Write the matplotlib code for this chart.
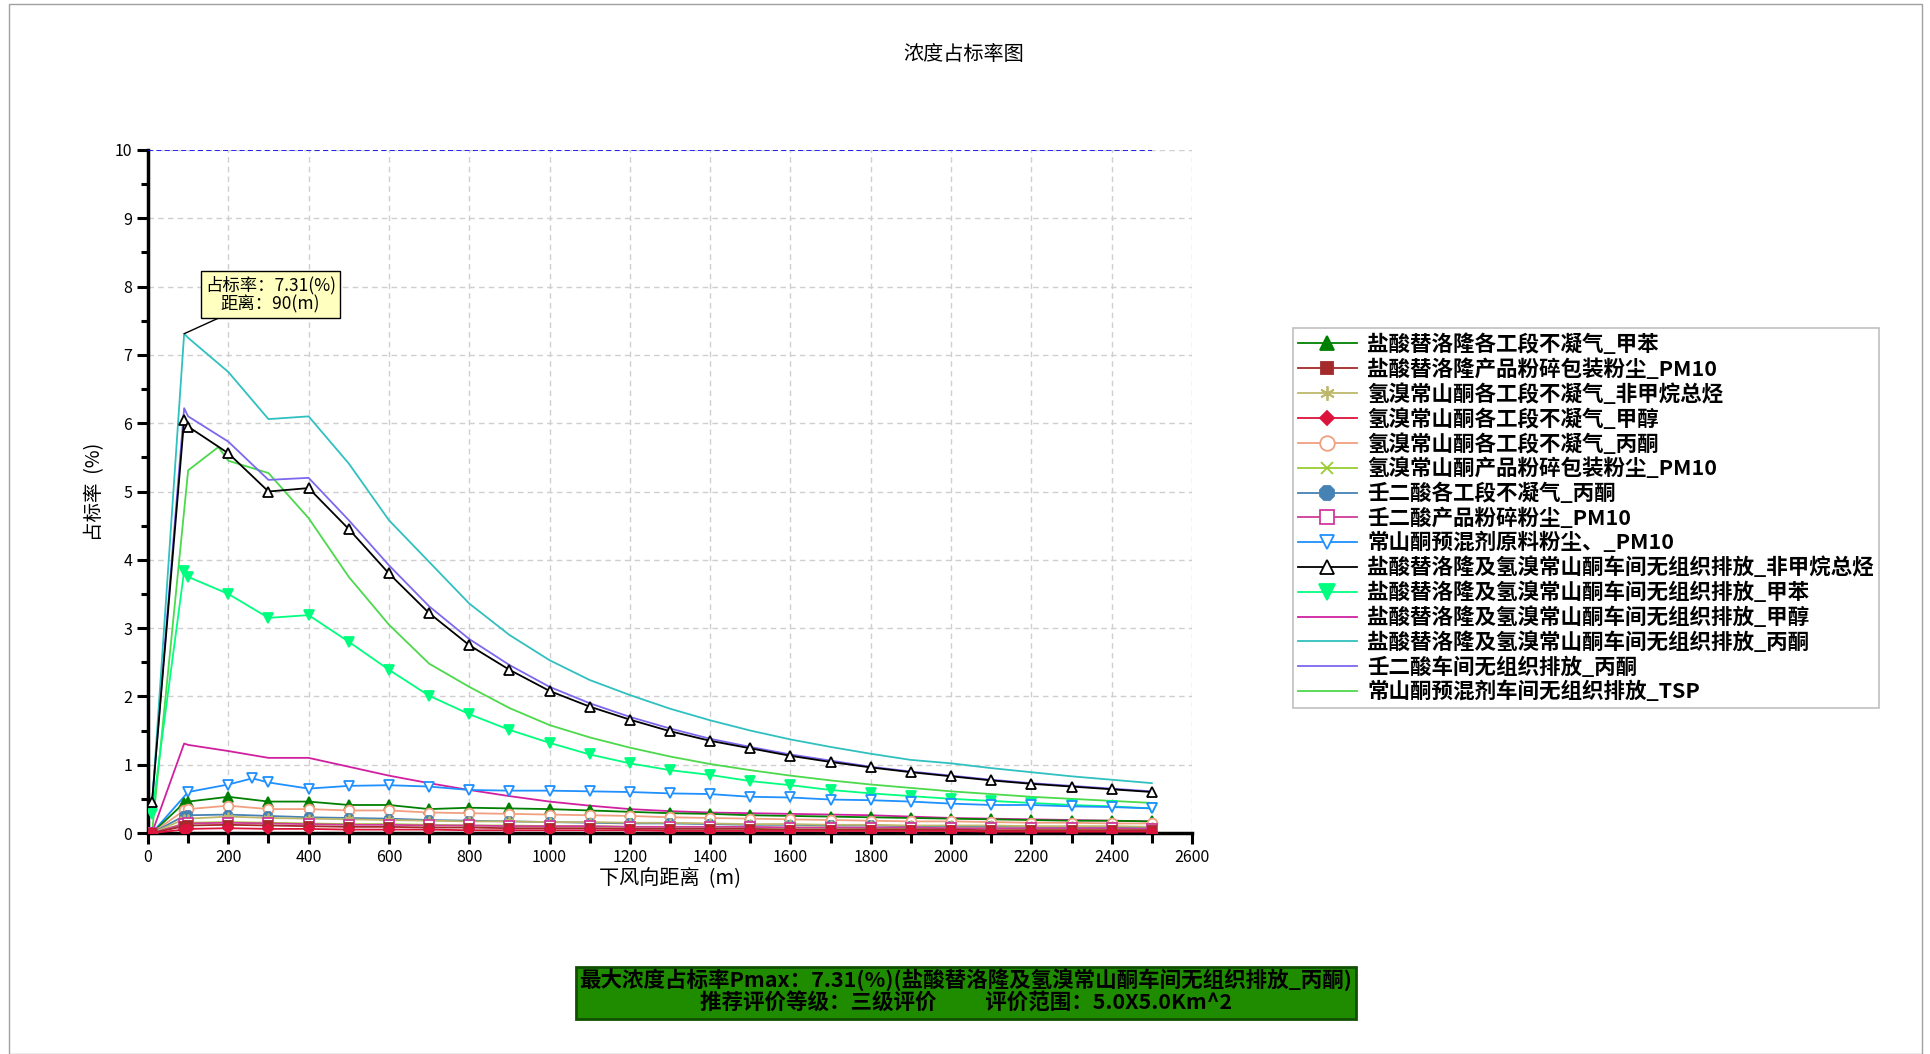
import matplotlib
matplotlib.use('Agg')
import matplotlib.pyplot as plt
from matplotlib.patches import Rectangle
from matplotlib.ticker import MultipleLocator

plt.rcParams['font.family'] = ['Noto Sans CJK SC', 'DejaVu Sans']
plt.rcParams['axes.unicode_minus'] = False

# ---------------- data ----------------
DIST = [10, 90, 100, 200, 300, 400, 500, 600, 700, 800, 900, 1000, 1100, 1200,
        1300, 1400, 1500, 1600, 1700, 1800, 1900, 2000, 2100, 2200, 2300, 2400, 2500]
DIST_B = [10, 100, 200, 260, 300, 400, 500, 600, 700, 800, 900, 1000, 1100, 1200,
          1300, 1400, 1500, 1600, 1700, 1800, 1900, 2000, 2100, 2200, 2300, 2400, 2500]
DIST_TSP = [10, 100, 175, 200, 300, 400, 500, 600, 700, 800, 900, 1000, 1100, 1200,
            1300, 1400, 1500, 1600, 1700, 1800, 1900, 2000, 2100, 2200, 2300, 2400, 2500]

LABELS = [
    "盐酸替洛隆各工段不凝气_甲苯",
    "盐酸替洛隆产品粉碎包装粉尘_PM10",
    "氢溴常山酮各工段不凝气_非甲烷总烃",
    "氢溴常山酮各工段不凝气_甲醇",
    "氢溴常山酮各工段不凝气_丙酮",
    "氢溴常山酮产品粉碎包装粉尘_PM10",
    "壬二酸各工段不凝气_丙酮",
    "壬二酸产品粉碎粉尘_PM10",
    "常山酮预混剂原料粉尘、_PM10",
    "盐酸替洛隆及氢溴常山酮车间无组织排放_非甲烷总烃",
    "盐酸替洛隆及氢溴常山酮车间无组织排放_甲苯",
    "盐酸替洛隆及氢溴常山酮车间无组织排放_甲醇",
    "盐酸替洛隆及氢溴常山酮车间无组织排放_丙酮",
    "壬二酸车间无组织排放_丙酮",
    "常山酮预混剂车间无组织排放_TSP",
]

S1_TOLUENE = [0.0, 0.44, 0.46, 0.53, 0.46, 0.46, 0.41, 0.41, 0.35, 0.37, 0.36, 0.35, 0.33, 0.31,
              0.29, 0.28, 0.26, 0.25, 0.24, 0.23, 0.22, 0.21, 0.20, 0.19, 0.18, 0.18, 0.17]
S2_PM10 = [0.0, 0.10, 0.11, 0.12, 0.11, 0.10, 0.09, 0.09, 0.08, 0.08, 0.07, 0.07, 0.07, 0.06,
           0.06, 0.06, 0.06, 0.05, 0.05, 0.05, 0.05, 0.05, 0.04, 0.04, 0.04, 0.04, 0.04]
S3_NMHC = [0.0, 0.20, 0.21, 0.24, 0.22, 0.21, 0.20, 0.19, 0.18, 0.17, 0.17, 0.16, 0.16, 0.15,
           0.15, 0.14, 0.13, 0.13, 0.12, 0.12, 0.11, 0.11, 0.11, 0.10, 0.10, 0.10, 0.09]
S4_METHANOL = [0.0, 0.05, 0.06, 0.07, 0.06, 0.06, 0.05, 0.05, 0.05, 0.04, 0.04, 0.04, 0.04, 0.04,
               0.03, 0.03, 0.03, 0.03, 0.03, 0.03, 0.03, 0.03, 0.02, 0.02, 0.02, 0.02, 0.02]
S5_ACETONE = [0.0, 0.33, 0.35, 0.40, 0.35, 0.35, 0.33, 0.33, 0.30, 0.29, 0.28, 0.27, 0.26, 0.25,
              0.23, 0.22, 0.21, 0.20, 0.19, 0.18, 0.17, 0.17, 0.16, 0.15, 0.15, 0.14, 0.14]
S6_PM10 = [0.0, 0.14, 0.15, 0.16, 0.15, 0.14, 0.13, 0.13, 0.12, 0.11, 0.11, 0.10, 0.10, 0.09,
           0.09, 0.09, 0.08, 0.08, 0.08, 0.07, 0.07, 0.07, 0.07, 0.06, 0.06, 0.06, 0.06]
S7_ACETONE = [0.0, 0.25, 0.26, 0.27, 0.25, 0.23, 0.22, 0.21, 0.19, 0.18, 0.17, 0.16, 0.15, 0.14,
              0.14, 0.13, 0.12, 0.12, 0.11, 0.11, 0.10, 0.10, 0.10, 0.09, 0.09, 0.09, 0.08]
S8_PM10 = [0.0, 0.13, 0.14, 0.15, 0.14, 0.13, 0.12, 0.12, 0.11, 0.11, 0.10, 0.10, 0.10, 0.09,
           0.09, 0.09, 0.09, 0.08, 0.08, 0.08, 0.08, 0.07, 0.07, 0.07, 0.07, 0.07, 0.06]
S9_PM10 = [0.0, 0.60, 0.71, 0.80, 0.74, 0.65, 0.69, 0.70, 0.68, 0.63, 0.62, 0.62, 0.61, 0.60,
           0.58, 0.57, 0.53, 0.52, 0.49, 0.48, 0.46, 0.43, 0.41, 0.41, 0.39, 0.38, 0.36]
S10_NMHC = [0.45, 6.05, 5.95, 5.56, 5.00, 5.05, 4.45, 3.80, 3.22, 2.75, 2.39, 2.08, 1.85, 1.66,
            1.49, 1.35, 1.24, 1.13, 1.04, 0.96, 0.89, 0.83, 0.77, 0.72, 0.68, 0.64, 0.60]
S11_TOLUENE = [0.28, 3.84, 3.75, 3.50, 3.15, 3.19, 2.80, 2.39, 2.01, 1.74, 1.51, 1.32, 1.15, 1.02,
               0.92, 0.85, 0.76, 0.70, 0.63, 0.58, 0.54, 0.50, 0.47, 0.44, 0.41, 0.39, 0.36]
S12_METHANOL = [0.0, 1.31, 1.29, 1.20, 1.10, 1.10, 0.97, 0.84, 0.73, 0.63, 0.54, 0.46, 0.40, 0.35,
                0.32, 0.30, 0.29, 0.28, 0.27, 0.26, 0.24, 0.22, 0.21, 0.20, 0.19, 0.18, 0.17]
S13_ACETONE = [0.40, 7.31, 7.25, 6.75, 6.06, 6.10, 5.41, 4.58, 3.97, 3.36, 2.90, 2.53, 2.24, 2.02,
               1.82, 1.65, 1.50, 1.37, 1.26, 1.16, 1.07, 1.02, 0.95, 0.89, 0.83, 0.78, 0.73]
S14_ACETONE = [0.45, 6.22, 6.10, 5.73, 5.17, 5.20, 4.58, 3.92, 3.32, 2.84, 2.46, 2.14, 1.90, 1.70,
               1.53, 1.38, 1.26, 1.15, 1.06, 0.97, 0.90, 0.84, 0.78, 0.73, 0.69, 0.65, 0.61]
S15_TSP = [0.0, 5.31, 5.65, 5.45, 5.27, 4.61, 3.75, 3.05, 2.48, 2.14, 1.83, 1.58, 1.40, 1.25,
           1.12, 1.01, 0.92, 0.84, 0.77, 0.71, 0.66, 0.61, 0.57, 0.53, 0.50, 0.47, 0.44]

X_TICKS = [0, 200, 400, 600, 800, 1000, 1200, 1400, 1600, 1800, 2000, 2200, 2400, 2600]
Y_TICKS = [0, 1, 2, 3, 4, 5, 6, 7, 8, 9, 10]
LIMIT_LINE_X = [0, 2500]
LIMIT_LINE_Y = [10, 10]
PMAX = 7.31
PMAX_DIST = 90

# (x, y, color, marker, filled, markersize)
STYLES = [
    (DIST, S1_TOLUENE, '#008000', '^', True, 6.5),
    (DIST, S2_PM10, '#a52a2a', 's', True, 5.5),
    (DIST, S3_NMHC, '#bdb76b', (6, 2, 0), True, 7),
    (DIST, S4_METHANOL, '#dc143c', 'D', True, 5),
    (DIST, S5_ACETONE, '#f0a080', 'o', False, 7),
    (DIST, S6_PM10, '#9acd32', 'x', True, 5.5),
    (DIST, S7_ACETONE, '#4682b4', '8', True, 7),
    (DIST, S8_PM10, '#d03a9a', 's', False, 7),
    (DIST_B, S9_PM10, '#1e90ff', 'v', False, 7),
    (DIST, S10_NMHC, '#000000', '^', False, 6.5),
    (DIST, S11_TOLUENE, '#00ff7f', 'v', True, 7.5),
    (DIST, S12_METHANOL, '#d020a0', None, True, 0),
    (DIST, S13_ACETONE, '#30c0c0', None, True, 0),
    (DIST, S14_ACETONE, '#7b68ee', None, True, 0),
    (DIST_TSP, S15_TSP, '#4cd94c', None, True, 0),
]

fig = plt.figure(figsize=(19.3, 10.54), dpi=100)
fig.patch.set_facecolor('white')
ax = fig.add_axes([148 / 1930, 1 - 833 / 1054, (1192 - 148) / 1930, (833 - 150) / 1054])

draw_order = [14, 13, 12, 11, 10, 9, 8, 0, 4, 6, 2, 5, 7, 1, 3]
lines = {}
for i in draw_order:
    x, y, c, m, filled, ms = STYLES[i]
    if m is None:
        ln, = ax.plot(x, y, color=c, lw=1.3, label=LABELS[i], zorder=3)
    else:
        ln, = ax.plot(x, y, color=c, lw=1.3, marker=m, markersize=ms,
                      markerfacecolor=(c if filled else 'white'),
                      markeredgecolor=c, markeredgewidth=1.3,
                      label=LABELS[i], zorder=4)
    lines[i] = ln

ax.plot(LIMIT_LINE_X, LIMIT_LINE_Y, linestyle=(0, (3, 2)), color='#0000ee', lw=1.2, zorder=3)

ax.set_xlim(0, 2600)
ax.set_ylim(0, 10)
ax.set_xticks(X_TICKS)
ax.set_yticks(Y_TICKS)
ax.xaxis.set_minor_locator(MultipleLocator(100))
ax.yaxis.set_minor_locator(MultipleLocator(0.5))
ax.grid(True, which='major', linestyle=(0, (4, 3)), color='#cfcfcf', lw=1)
ax.set_axisbelow(True)
for s in ['top', 'right']:
    ax.spines[s].set_visible(False)
for s in ['left', 'bottom']:
    ax.spines[s].set_linewidth(2.5)
    ax.spines[s].set_color('black')
ax.tick_params(which='major', direction='out', length=8, width=2.2, labelsize=11.5, colors='black')
ax.tick_params(which='minor', direction='out', length=7, width=2.2)
ax.tick_params(axis='y', which='minor', length=5)
ax.set_xlabel("下风向距离  (m)", fontsize=14.5, labelpad=1)
ax.set_ylabel("占标率  (%)", fontsize=14, labelpad=7)

# annotation
ax.annotate("占标率：7.31(%)\n距离：90(m)", xy=(PMAX_DIST, PMAX), xytext=(305, 7.61),
            ha='center', va='bottom', multialignment='center',
            fontsize=12.5, linespacing=1.05,
            bbox=dict(boxstyle='square,pad=0.25', fc='#ffffc0', ec='black', lw=1),
            arrowprops=dict(arrowstyle='-', color='black', lw=1, shrinkA=0, shrinkB=0),
            zorder=10)

# title
fig.text(964 / 1930, 1 - 54 / 1054, "浓度占标率图", ha='center', va='center', fontsize=14.5)

# legend
leg_handles = [lines[i] for i in range(15)]
leg = fig.legend(leg_handles, LABELS, loc='upper left',
                 bbox_to_anchor=(1293 / 1930, 1 - 328 / 1054),
                 bbox_transform=fig.transFigure,
                 prop={'size': 15.5, 'weight': 'bold', 'style': 'italic'},
                 handlelength=2.7, handletextpad=0.5, labelspacing=0.15,
                 borderpad=0.25, borderaxespad=0, frameon=True, fancybox=False,
                 markerscale=1.5)
leg.get_frame().set_edgecolor('#b0b0b0')
leg.get_frame().set_linewidth(1.2)

# bottom info box
fig.patches.append(Rectangle((576 / 1930, 1 - 1019 / 1054), 780 / 1930, 52 / 1054,
                             transform=fig.transFigure, facecolor='#1f8c00',
                             edgecolor='#105000', lw=2, zorder=1))
fig.text(966 / 1930, 1 - 980 / 1054,
         "最大浓度占标率Pmax：7.31(%)(盐酸替洛隆及氢溴常山酮车间无组织排放_丙酮)",
         ha='center', va='center', fontsize=15.5, color='black', weight='bold')
fig.text(966 / 1930, 1 - 1003 / 1054,
         "推荐评价等级：三级评价          评价范围：5.0X5.0Km^2",
         ha='center', va='center', fontsize=15.5, color='black', weight='bold')

# outer frame
fig.patches.append(Rectangle((9 / 1930, 0.0), 1913 / 1930, 1 - 4 / 1054,
                             transform=fig.transFigure, facecolor='none',
                             edgecolor='#a0a0a0', lw=1, zorder=0))

fig.savefig('out.png', dpi=100)
